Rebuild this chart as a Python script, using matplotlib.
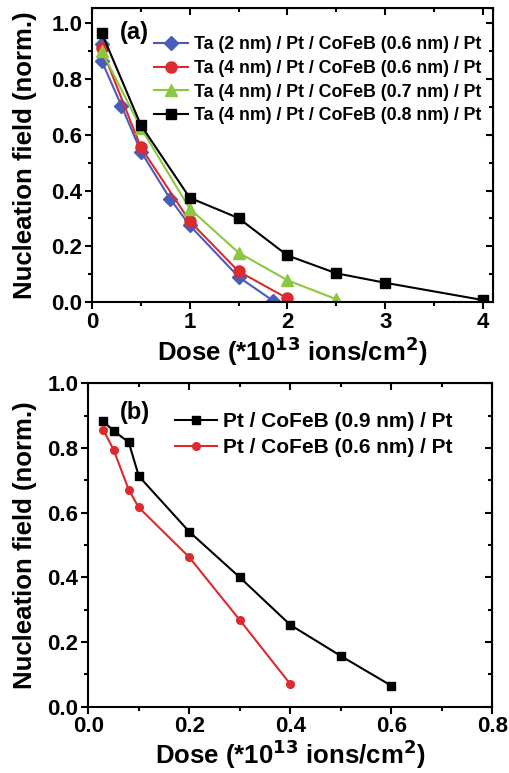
import numpy as np
import matplotlib
matplotlib.use("Agg")
from matplotlib import pyplot as plt
from matplotlib.ticker import MultipleLocator

plt.rcParams['font.family'] = ['Liberation Sans', 'DejaVu Sans']
plt.rcParams['font.weight'] = 'bold'
plt.rcParams['mathtext.default'] = 'bf'

# Panel (a) data
a_blue_x = [0.1, 0.1, 0.3, 0.5, 0.8, 1.0, 1.5, 1.85]
a_blue_y = [0.925, 0.865, 0.705, 0.54, 0.37, 0.275, 0.09, 0.005]
a_red_x = [0.1, 0.5, 1.0, 1.5, 2.0]
a_red_y = [0.91, 0.555, 0.29, 0.11, 0.013]
a_green_x = [0.1, 0.5, 1.0, 1.5, 2.0, 2.5]
a_green_y = [0.9, 0.625, 0.335, 0.177, 0.078, 0.01]
a_black_x = [0.1, 0.5, 1.0, 1.5, 2.0, 2.5, 3.0, 4.0]
a_black_y = [0.965, 0.635, 0.374, 0.301, 0.167, 0.103, 0.069, 0.007]
a_labels = ["Ta (2 nm) / Pt / CoFeB (0.6 nm) / Pt",
            "Ta (4 nm) / Pt / CoFeB (0.6 nm) / Pt",
            "Ta (4 nm) / Pt / CoFeB (0.7 nm) / Pt",
            "Ta (4 nm) / Pt / CoFeB (0.8 nm) / Pt"]

# Panel (b) data
b_black_x = [0.03, 0.05, 0.08, 0.1, 0.2, 0.3, 0.4, 0.5, 0.6]
b_black_y = [0.882, 0.853, 0.818, 0.713, 0.541, 0.40, 0.253, 0.157, 0.065]
b_red_x = [0.03, 0.05, 0.08, 0.1, 0.2, 0.3, 0.4]
b_red_y = [0.855, 0.795, 0.671, 0.616, 0.462, 0.268, 0.070]
b_labels = ["Pt / CoFeB (0.9 nm) / Pt", "Pt / CoFeB (0.6 nm) / Pt"]

blue = '#4a5cb8'
red = '#dd2a2e'
green = '#8cc83f'

fig = plt.figure(figsize=(5.09, 7.73), dpi=100)
axA = fig.add_axes([0.1807, 0.6093, 0.968 - 0.1807, 0.9893 - 0.6093])
axB = fig.add_axes([0.1735, 0.0858, 0.967 - 0.1735, 0.5041 - 0.0858])


def style_axes(ax, xmaj, xmin, ymaj, ymin):
    for s in ax.spines.values():
        s.set_linewidth(1.5)
    ax.xaxis.set_major_locator(MultipleLocator(xmaj))
    ax.xaxis.set_minor_locator(MultipleLocator(xmin))
    ax.yaxis.set_major_locator(MultipleLocator(ymaj))
    ax.yaxis.set_minor_locator(MultipleLocator(ymin))
    ax.tick_params(which='major', direction='out', length=5, width=1.5,
                   labelsize=16, pad=2)
    ax.tick_params(which='minor', direction='out', length=3, width=1.5)
    # top and right: inward ticks, no labels
    top = ax.secondary_xaxis('top')
    top.xaxis.set_major_locator(MultipleLocator(xmaj))
    top.xaxis.set_minor_locator(MultipleLocator(xmin))
    top.tick_params(which='major', direction='in', length=5, width=1.5, labeltop=False)
    top.tick_params(which='minor', direction='in', length=3, width=1.5)
    right = ax.secondary_yaxis('right')
    right.yaxis.set_major_locator(MultipleLocator(ymaj))
    right.yaxis.set_minor_locator(MultipleLocator(ymin))
    right.tick_params(which='major', direction='in', length=5, width=1.5, labelright=False)
    right.tick_params(which='minor', direction='in', length=3, width=1.5)
    for lab in ax.get_xticklabels() + ax.get_yticklabels():
        lab.set_fontweight('bold')


xlabel = r"Dose (*10$^{13}$ ions/cm$^{2}$)"
ylabel = "Nucleation field (norm.)"

# ---- panel (a)
axA.plot(a_blue_x, a_blue_y, '-D', color=blue, lw=1.5, ms=7.5, label=a_labels[0])
axA.plot(a_red_x, a_red_y, '-o', color=red, lw=1.5, ms=8, label=a_labels[1])
axA.plot(a_green_x, a_green_y, '-^', color=green, lw=1.5, ms=8.5, label=a_labels[2])
axA.plot(a_black_x, a_black_y, '-s', color='black', lw=1.5, ms=7, label=a_labels[3])
axA.set_xlim(0, 4.1)
axA.set_ylim(0, 1.054)
style_axes(axA, 1, 0.5, 0.2, 0.1)
axA.set_xlabel(xlabel, fontsize=18.5, fontweight='bold', labelpad=1)
axA.set_ylabel(ylabel, fontsize=18.5, fontweight='bold')
axA.yaxis.set_label_coords(-0.137, 0.5)
axA.text(0.107, 0.916, "(a)", transform=axA.transAxes, fontsize=17,
         fontweight='bold', ha='center', va='center')
axA.legend(loc='upper left', bbox_to_anchor=(0.155, 0.905), frameon=False,
           handlelength=1.9, handletextpad=0.35,
           labelspacing=0.38, borderpad=0, borderaxespad=0,
           prop={'weight': 'bold', 'size': 12.8})

# ---- panel (b)
axB.plot(b_black_x, b_black_y, '-s', color='black', lw=1.5, ms=5.5, label=b_labels[0])
axB.plot(b_red_x, b_red_y, '-o', color=red, lw=1.5, ms=5.5, label=b_labels[1])
axB.set_xlim(0, 0.8)
axB.set_ylim(0, 1.0)
style_axes(axB, 0.2, 0.1, 0.2, 0.1)
axB.set_xlabel(xlabel, fontsize=18.5, fontweight='bold', labelpad=0)
axB.set_ylabel(ylabel, fontsize=18.5, fontweight='bold')
axB.yaxis.set_label_coords(-0.127, 0.5)
axB.text(0.115, 0.911, "(b)", transform=axB.transAxes, fontsize=17,
         fontweight='bold', ha='center', va='center')
axB.legend(loc='upper left', bbox_to_anchor=(0.215, 0.91), frameon=False,
           handlelength=2.0, handletextpad=0.3, labelspacing=0.32,
           borderpad=0, borderaxespad=0, prop={'weight': 'bold', 'size': 15})

fig.savefig("out.png", dpi=100)
